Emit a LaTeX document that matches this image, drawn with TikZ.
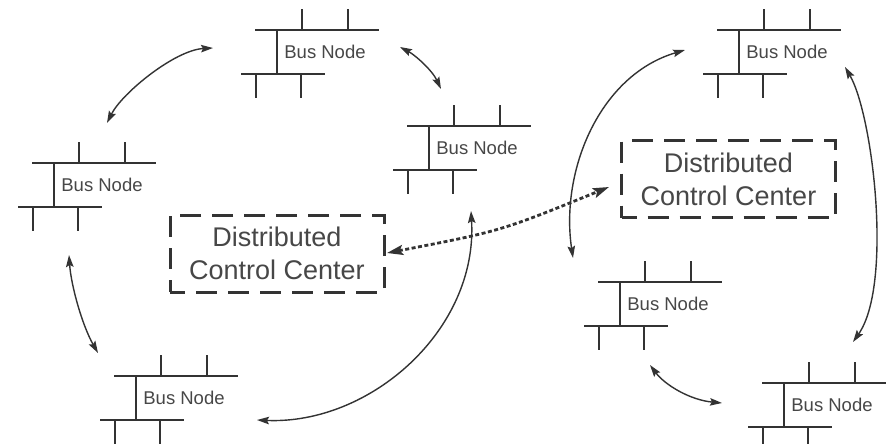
\documentclass[tikz,border=0pt]{standalone}
\usepackage{fontspec}
\setmainfont{Liberation Sans}
\usetikzlibrary{arrows.meta}
\definecolor{ink}{gray}{0.2}
\definecolor{txt}{gray}{0.28}
\tikzset{
  busbar/.style={draw=ink, line width=2.4pt},
  busline/.style={draw=ink, line width=1.8pt},
  bustext/.style={text=txt, inner sep=0pt, font=\fontsize{18.5}{22}\selectfont},
  dccbox/.style={draw=ink, line width=3pt, dash pattern=on 21pt off 11pt, dash phase=6pt,
    minimum width=214pt, minimum height=77pt, inner sep=0pt, align=center,
    text=txt, font=\fontsize{27}{33}\selectfont},
  link/.style={draw=ink, line width=1.4pt, {Stealth[length=12pt,width=7.5pt,inset=2pt]}-{Stealth[length=12pt,width=7.5pt,inset=2pt]}},
  dotlink/.style={draw=ink, line width=2.8pt, dash pattern=on 4pt off 2.5pt, {Stealth[length=16pt,width=10pt,inset=3pt]}-{Stealth[length=16pt,width=10pt,inset=3pt]}},
  busnode/.pic={
    \draw[busbar] (-22,0) -- (102,0);
    \draw[busbar] (-36,44) -- (48,44);
    \draw[busline] (0,0) -- (0,44);
    \draw[busline] (25,0) -- (25,-21);
    \draw[busline] (71,0) -- (71,-21);
    \draw[busline] (-21,44) -- (-21,68);
    \draw[busline] (24,44) -- (24,68);
    \node[bustext] (-lbl) at (48,22) {Bus Node};
  }
}
\begin{document}
\begin{tikzpicture}[x=1pt, y=-1pt]
\useasboundingbox (0,0) rectangle (895,444);
\clip (0,0) rectangle (895,444);
\fill[white] (0,0) rectangle (895,444);

% bus nodes
\pic (b1) at (277,30) {busnode};
\pic (b2) at (54,163) {busnode};
\pic (b3) at (429,126) {busnode};
\pic (b4) at (136,376) {busnode};
\pic (b5) at (739,30) {busnode};
\pic (b6) at (620,282) {busnode};
\pic (b7) at (784,383) {busnode};

% control centers
\node[dccbox] (dcc1) at (277,253.5) {Distributed\\Control Center};
\node[dccbox] (dcc2) at (728.5,179) {Distributed\\Control Center};

% arrow end points
\coordinate (a1s) at (107,123);
\coordinate (a1e) at (213,48);
\coordinate (a2s) at (400,47);
\coordinate (a2e) at (441,89);
\coordinate (a3s) at (69,255);
\coordinate (a3e) at (98,353);
\coordinate (a4s) at (257,420);
\coordinate (a4e) at (471,211);
\coordinate (b1s) at (573,258);
\coordinate (b1e) at (685,50);
\coordinate (b2s) at (845,67);
\coordinate (b2e) at (853,342);
\coordinate (b3s) at (650,365);
\coordinate (b3e) at (722,403);
\coordinate (d1) at (387,253);
\coordinate (d2) at (609,187);

% left ring
\draw[link] (a1s) .. controls (122,93) and (175,50) .. (a1e);
\draw[link] (a2s) .. controls (415,55) and (432,70) .. (a2e);
\draw[link] (a3s) .. controls (71,285) and (82,325) .. (a3e);
\draw[link] (a4s) .. controls (370,425) and (478,330) .. (a4e);

% right ring
\draw[link] (b1s) .. controls (560,170) and (600,75) .. (b1e);
\draw[link] (b2s) .. controls (873,115) and (893,285) .. (b2e);
\draw[link] (b3s) .. controls (665,385) and (690,400) .. (b3e);

% link between the control centers
\draw[dotlink] (d1) .. controls (501,231) .. (d2);
\end{tikzpicture}
\end{document}
